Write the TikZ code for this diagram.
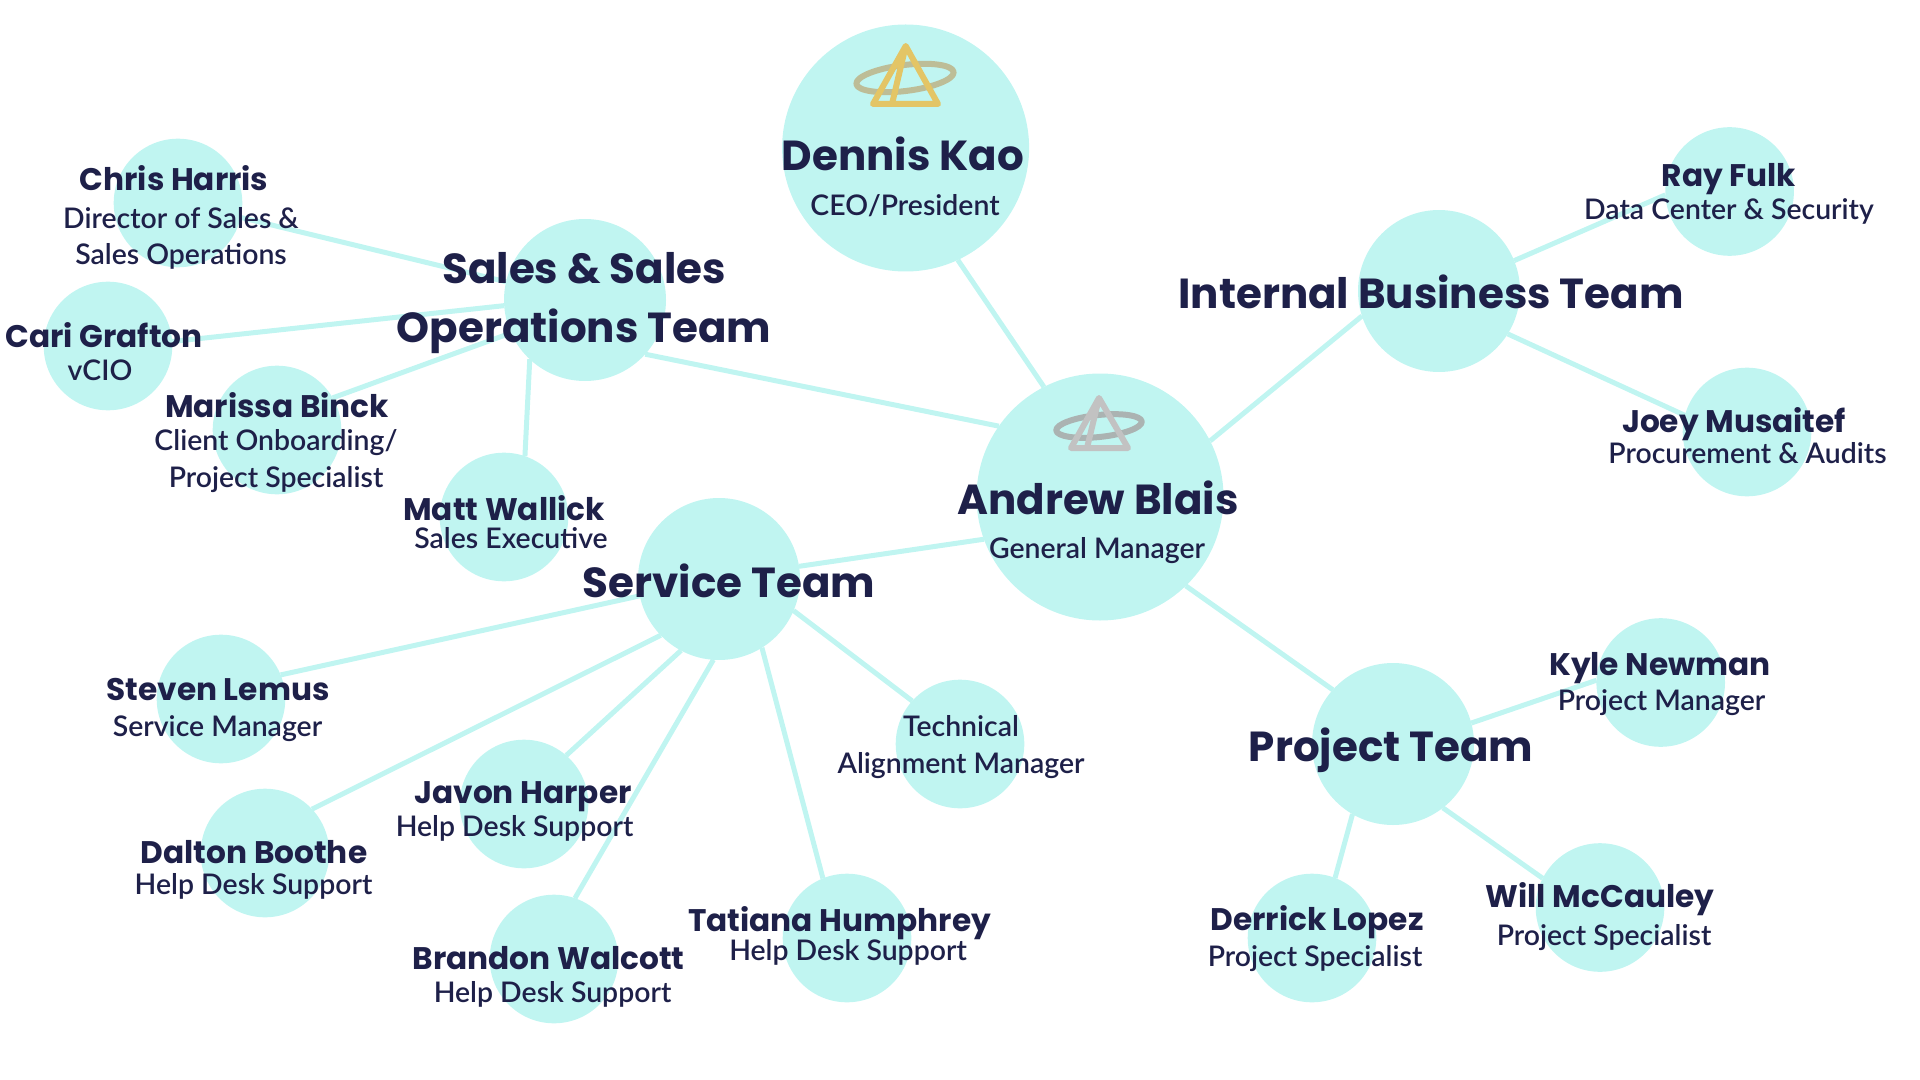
\documentclass[tikz,border=0pt]{standalone}
\usepackage{fontspec}
\setmainfont{Lato}
\newfontfamily\namefont{Poppins Bold}
\newfontfamily\rolefont{Lato Semibold}
\definecolor{bubblecol}{HTML}{C0F5F1}
\definecolor{inkcol}{HTML}{1E2049}
\definecolor{goldcol}{HTML}{E3C566}
\definecolor{olivecol}{HTML}{BDBD97}
\definecolor{greycol}{HTML}{C2C2C2}
\definecolor{slatecol}{HTML}{ABB3B2}
\begin{document}
\begin{tikzpicture}[x=0.5pt,y=-0.5pt,
  bubble/.style = {shape=circle, fill=bubblecol, inner sep=0pt, outer sep=0pt},
  small/.style = {bubble, minimum size=64.3pt},
  team/.style = {bubble, minimum size=81pt},
  lead/.style = {bubble, minimum size=123.5pt},
  link/.style = {draw=bubblecol, line width=2.5pt},
  label/.style = {text=inkcol, inner sep=0pt, outer sep=0pt, anchor=base, align=center, yshift=-0.5pt},
  bigname/.style = {label, font=\namefont\fontsize{21}{29.5}\selectfont},
  person/.style = {label, font=\namefont\fontsize{15.6}{20}\selectfont},
  role/.style = {label, font=\rolefont\fontsize{14.2}{18.4}\selectfont},
  logoline/.style = {line width=3pt, line join=round}]
  \useasboundingbox (0,0) rectangle (1920,1080);

  \node [lead] (dennis) at (905.6,148) {};
  \node [lead] (andrew) at (1100,497) {};
  \node [team] (sales) at (585,300) {};
  \node [team] (internal) at (1439,291) {};
  \node [team] (service) at (719,579) {};
  \node [team] (project) at (1393,744) {};
  \node [small] (chris) at (178,203) {};
  \node [small] (cari) at (108,346) {};
  \node [small] (marissa) at (277,430) {};
  \node [small] (matt) at (504,517) {};
  \node [small] (ray) at (1729.6,191.5) {};
  \node [small] (joey) at (1747,432) {};
  \node [small] (steven) at (221,699) {};
  \node [small] (dalton) at (265,853) {};
  \node [small] (javon) at (524,804) {};
  \node [small] (brandon) at (554,959) {};
  \node [small] (tatiana) at (847,938) {};
  \node [small] (technical) at (960,744) {};
  \node [small] (kyle) at (1660.7,682.5) {};
  \node [small] (will) at (1600,907.5) {};
  \node [small] (derrick) at (1312,938) {};

  \draw [link] (dennis.-65.6) -- (andrew.117.8);
  \draw [link] (sales.-42) -- (andrew.145);
  \draw [link] (internal.198) -- (andrew.27.7);
  \draw [link] (project.138.5) -- (andrew.-46);
  \draw [link] (service.9.5) -- (andrew.200);
  \draw [link] (chris.-13.6) -- (sales.167);
  \draw [link] (cari.4.5) -- (sales.184);
  \draw [link] (marissa.30) -- (sales.204);
  \draw [link] (matt.71) -- (sales.227);
  \draw [link] (ray.183) -- (internal.22.7);
  \draw [link] (joey.165) -- (internal.-32.3);
  \draw [link] (steven.22.6) -- (service.192.7);
  \draw [link] (dalton.43) -- (service.224);
  \draw [link] (javon.49) -- (service.242);
  \draw [link] (brandon.71.6) -- (service.266);
  \draw [link] (tatiana.112) -- (service.-58.6);
  \draw [link] (technical.138) -- (service.-23.7);
  \draw [link] (kyle.178) -- (project.15.6);
  \draw [link] (will.153) -- (project.-52);
  \draw [link] (derrick.69.6) -- (project.240.6);

  \draw [logoline, draw=olivecol, rotate around={7:(905,78)}] (905,78) ellipse (49 and 13);
  \draw [logoline, draw=goldcol] (905.7,46) -- (873,104) -- (938,104) -- cycle (905.7,46) -- (892,104);
  \draw [logoline, draw=slatecol, rotate around={6:(1099,426)}] (1099,426) ellipse (43 and 11);
  \draw [logoline, draw=greycol] (1099,398) -- (1071,448) -- (1128,448) -- cycle (1099,398) -- (1087,448);

  \node [bigname] (dennisname) at (903,170) {Dennis Kao};
  \node [role] (dennisrole) at (905,215) {CEO/President};
  \node [bigname] (andrewname) at (1098,513) {Andrew Blais};
  \node [role] (andrewrole) at (1097,557) {General Manager};
  \node [bigname] (salesname) at (584,342) {Sales \& Sales\\Operations Team};
  \node [bigname] (internalname) at (1431,308) {Internal Business Team};
  \node [bigname] (servicename) at (729,596) {Service Team};
  \node [bigname] (projectname) at (1391,760) {Project Team};
  \node [person] (chrisname) at (174,190) {Chris Harris};
  \node [role] (chrisrole) at (181,264) {Director of Sales \&\\Sales Operations};
  \node [person] (cariname) at (104,347) {Cari Grafton};
  \node [role] (carirole) at (100,379) {vCIO};
  \node [person] (marissaname) at (277,416) {Marissa Binck};
  \node [role] (marissarole) at (276,486) {Client Onboarding/\\Project Specialist};
  \node [person] (mattname) at (504,519) {Matt Wallick};
  \node [role] (mattrole) at (511,547) {Sales Executive};
  \node [person] (rayname) at (1729,186) {Ray Fulk};
  \node [role] (rayrole) at (1729,219) {Data Center \& Security};
  \node [person] (joeyname) at (1734,431) {Joey Musaitef};
  \node [role] (joeyrole) at (1747.5,462) {Procurement \& Audits};
  \node [person] (stevenname) at (218,699) {Steven Lemus};
  \node [role] (stevenrole) at (217.5,735) {Service Manager};
  \node [person] (daltonname) at (254,862) {Dalton Boothe};
  \node [role] (daltonrole) at (253.5,893) {Help Desk Support};
  \node [person] (javonname) at (523,802) {Javon Harper};
  \node [role] (javonrole) at (514.5,835) {Help Desk Support};
  \node [person] (brandonname) at (548.5,968) {Brandon Walcott};
  \node [role] (brandonrole) at (552.5,1001) {Help Desk Support};
  \node [person] (tatiananame) at (839.5,930) {Tatiana Humphrey};
  \node [role] (tatianarole) at (848,959) {Help Desk Support};
  \node [role] (technicalrole) at (961,772) {Technical\\Alignment Manager};
  \node [person] (kylename) at (1660,674) {Kyle Newman};
  \node [role] (kylerole) at (1661.5,709) {Project Manager};
  \node [person] (willname) at (1600,906) {Will McCauley};
  \node [role] (willrole) at (1604,944) {Project Specialist};
  \node [person] (derrickname) at (1317,929) {Derrick Lopez};
  \node [role] (derrickrole) at (1315,965) {Project Specialist};
\end{tikzpicture}
\end{document}
